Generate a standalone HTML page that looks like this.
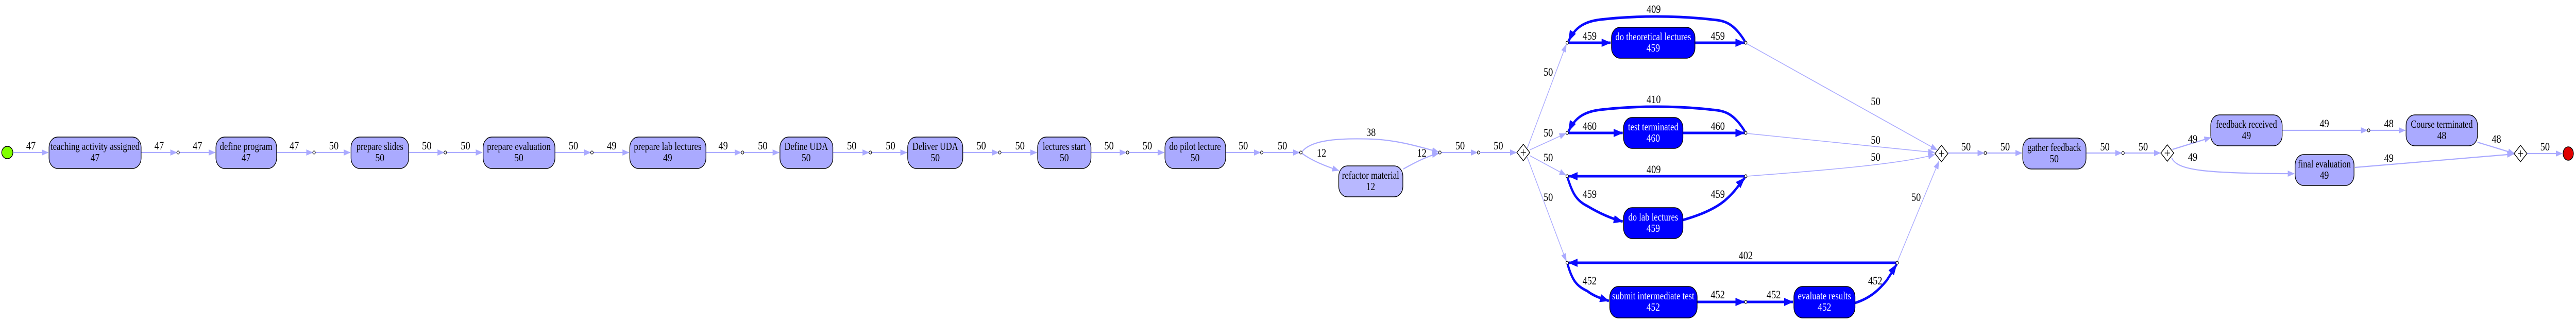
<!DOCTYPE html>
<html><head><meta charset="utf-8"><style>
html,body{margin:0;padding:0;background:#fff;width:100%;height:100%;overflow:hidden;}
svg{display:block;width:100vw;height:100vh;}
text{font-family:"Liberation Serif",serif;}
.l{font-size:22px;fill:#000;text-anchor:middle;}
.n{font-size:21px;text-anchor:middle;}
.e{stroke:#aaaaff;stroke-width:2.2;fill:none;}
.et{stroke:#aaaaff;stroke-width:1.6;fill:none;}
.b{stroke:#0a0aff;stroke-width:5;fill:none;}
.dot{fill:#fff;stroke:#000;stroke-width:1.2;}
</style></head><body>
<svg viewBox="0 0 5988 623" preserveAspectRatio="none" xmlns="http://www.w3.org/2000/svg">
<defs>
<marker id="a" markerUnits="userSpaceOnUse" markerWidth="16" markerHeight="12" refX="15" refY="6" orient="auto"><path d="M0,0 L16,6 L0,12 z" fill="#aaaaff"/></marker>
<marker id="ab" markerUnits="userSpaceOnUse" markerWidth="22" markerHeight="16" refX="21" refY="8" orient="auto"><path d="M0,0 L22,8 L0,16 z" fill="#0a0aff"/></marker>
</defs>

<ellipse cx="17" cy="296" rx="13" ry="12" fill="#80ff00" stroke="#000" stroke-width="1.5"/>
<ellipse cx="5970" cy="298" rx="12" ry="13" fill="#e00000" stroke="#000" stroke-width="1.5"/>

<g class="e">
<path d="M30,296 H112" marker-end="url(#a)"/>
<path d="M328,296 H411" marker-end="url(#a)"/>
<path d="M417,296 H500" marker-end="url(#a)"/>
<path d="M643,296 H727" marker-end="url(#a)"/>
<path d="M733,296 H814" marker-end="url(#a)"/>
<path d="M950,296 H1032" marker-end="url(#a)"/>
<path d="M1038,296 H1121" marker-end="url(#a)"/>
<path d="M1290,296 H1373" marker-end="url(#a)"/>
<path d="M1379,296 H1462" marker-end="url(#a)"/>
<path d="M1641,296 H1723" marker-end="url(#a)"/>
<path d="M1729,296 H1811" marker-end="url(#a)"/>
<path d="M1936,296 H2020" marker-end="url(#a)"/>
<path d="M2026,296 H2108" marker-end="url(#a)"/>
<path d="M2238,296 H2321" marker-end="url(#a)"/>
<path d="M2327,296 H2410" marker-end="url(#a)"/>
<path d="M2536,296 H2618" marker-end="url(#a)"/>
<path d="M2624,296 H2706" marker-end="url(#a)"/>
<path d="M2849,296 H2930" marker-end="url(#a)"/>
<path d="M2936,296 H3021" marker-end="url(#a)"/>
<path d="M3027,294 C3050,270 3120,268 3190,270 C3250,272 3300,285 3344,295" marker-end="url(#a)"/>
<path d="M3027,298 C3050,312 3080,322 3112,331" marker-end="url(#a)"/>
<path d="M3262,328 C3290,315 3320,302 3344,298" marker-end="url(#a)"/>
<path d="M3350,296 H3434" marker-end="url(#a)"/>
<path d="M3440,296 H3525" marker-end="url(#a)"/>
<path d="M4528,297 H4612" marker-end="url(#a)"/>
<path d="M4618,297 H4700" marker-end="url(#a)"/>
<path d="M4849,297 H4932" marker-end="url(#a)"/>
<path d="M4938,297 H5022" marker-end="url(#a)"/>
<path d="M5050,290 L5139,267" marker-end="url(#a)"/>
<path d="M5048,306 C5060,330 5120,337 5333,337" marker-end="url(#a)"/>
<path d="M5305,253 H5503" marker-end="url(#a)"/>
<path d="M5509,253 H5591" marker-end="url(#a)"/>
<path d="M5759,276 L5845,298" marker-end="url(#a)"/>
<path d="M5474,325 L5843,299" marker-end="url(#a)"/>
<path d="M5874,298 H5956" marker-end="url(#a)"/>
</g>
<g class="et">
<path d="M3550,288 L3641,86" marker-end="url(#a)"/>
<path d="M3556,291 L3640,259" marker-end="url(#a)"/>
<path d="M3556,302 L3640,340" marker-end="url(#a)"/>
<path d="M3550,305 L3641,507" marker-end="url(#a)"/>
<path d="M4061,85 L4503,291" marker-end="url(#a)"/>
<path d="M4061,259 L4497,296" marker-end="url(#a)"/>
<path d="M4061,342 C4250,330 4420,318 4497,300" marker-end="url(#a)"/>
<path d="M4411,507 L4507,313" marker-end="url(#a)"/>
</g>

<g class="b">
<path d="M3646,83 H3744" marker-end="url(#ab)"/>
<path d="M3940,83 H4055" marker-end="url(#ab)"/>
<path d="M4056,80 C4030,45 4010,40 3980,38 C3900,30 3800,30 3720,38 C3680,42 3660,55 3646,80" marker-end="url(#ab)"/>
<path d="M3646,258 H3772" marker-end="url(#ab)"/>
<path d="M3912,258 H4055" marker-end="url(#ab)"/>
<path d="M4056,255 C4030,220 4010,215 3980,213 C3900,205 3800,205 3720,213 C3680,217 3660,230 3646,255" marker-end="url(#ab)"/>
<path d="M4055,342 H3646" marker-end="url(#ab)"/>
<path d="M3644,345 C3655,375 3665,390 3690,400 C3720,415 3745,424 3772,430" marker-end="url(#ab)"/>
<path d="M3912,427 C3950,418 3990,405 4015,385 C4035,370 4045,355 4056,345" marker-end="url(#ab)"/>
<path d="M4408,510 H3646" marker-end="url(#ab)"/>
<path d="M3644,513 C3655,545 3665,555 3690,565 C3705,575 3725,580 3740,584" marker-end="url(#ab)"/>
<path d="M3945,586 H4055" marker-end="url(#ab)"/>
<path d="M4061,586 H4168" marker-end="url(#ab)"/>
<path d="M4312,588 C4350,578 4370,560 4385,545 C4395,533 4402,522 4409,513" marker-end="url(#ab)"/>
</g>

<g class="dot">
<circle cx="414" cy="296" r="3"/><circle cx="730" cy="296" r="3"/><circle cx="1035" cy="296" r="3"/>
<circle cx="1376" cy="296" r="3"/><circle cx="1726" cy="296" r="3"/><circle cx="2023" cy="296" r="3"/>
<circle cx="2324" cy="296" r="3"/><circle cx="2621" cy="296" r="3"/><circle cx="2933" cy="296" r="3"/>
<circle cx="3024" cy="296" r="3"/><circle cx="3347" cy="296" r="3"/><circle cx="3437" cy="296" r="3"/>
<circle cx="4615" cy="297" r="3"/><circle cx="4935" cy="297" r="3"/><circle cx="5506" cy="253" r="3"/>
<circle cx="3643" cy="83" r="3"/><circle cx="3643" cy="258" r="3"/><circle cx="3643" cy="342" r="3"/><circle cx="3643" cy="510" r="3"/>
<circle cx="4058" cy="83" r="3"/><circle cx="4058" cy="258" r="3"/><circle cx="4058" cy="342" r="3"/><circle cx="4058" cy="586" r="3"/>
<circle cx="4410" cy="510" r="3"/>
</g>

<g fill="#fff" stroke="#000" stroke-width="1.5">
<path d="M3541,280 L3556,296 L3541,312 L3526,296 z"/>
<path d="M4513,282 L4528,298 L4513,314 L4498,298 z"/>
<path d="M5038,281 L5053,297 L5038,313 L5023,297 z"/>
<path d="M5859,282 L5874,298 L5859,314 L5844,298 z"/>
</g>
<g stroke="#000" stroke-width="1.2">
<path d="M3535,296 H3547 M3541,290 V302"/>
<path d="M4507,298 H4519 M4513,292 V304"/>
<path d="M5032,297 H5044 M5038,291 V303"/>
<path d="M5853,298 H5865 M5859,292 V304"/>
</g>

<g fill="#aaaaff" stroke="#000" stroke-width="1.5">
<rect x="114" y="266" width="214" height="61" rx="20"/>
<rect x="502" y="266" width="141" height="61" rx="20"/>
<rect x="816" y="266" width="134" height="61" rx="20"/>
<rect x="1123" y="266" width="167" height="61" rx="20"/>
<rect x="1464" y="266" width="177" height="61" rx="20"/>
<rect x="1813" y="266" width="123" height="61" rx="20"/>
<rect x="2110" y="266" width="128" height="61" rx="20"/>
<rect x="2412" y="266" width="124" height="61" rx="20"/>
<rect x="2708" y="266" width="141" height="61" rx="20"/>
<rect x="3112" y="322" width="149" height="60" rx="20" fill="#b8b8ff"/>
<rect x="4702" y="268" width="147" height="60" rx="20"/>
<rect x="5139" y="223" width="166" height="60" rx="20"/>
<rect x="5593" y="223" width="166" height="60" rx="20"/>
<rect x="5335" y="300" width="137" height="60" rx="20"/>
</g>
<g fill="#0000ff" stroke="#000" stroke-width="1.5">
<rect x="3746" y="53" width="194" height="60" rx="20"/>
<rect x="3774" y="228" width="138" height="60" rx="20"/>
<rect x="3774" y="403" width="138" height="60" rx="20"/>
<rect x="3742" y="556" width="203" height="61" rx="20"/>
<rect x="4170" y="556" width="142" height="61" rx="20"/>
</g>

<g class="n" fill="#000">
<text x="221" y="291" textLength="207" lengthAdjust="spacingAndGlyphs">teaching activity assigned</text><text x="221" y="313">47</text>
<text x="572" y="291" textLength="122" lengthAdjust="spacingAndGlyphs">define program</text><text x="572" y="313">47</text>
<text x="883" y="291" textLength="109" lengthAdjust="spacingAndGlyphs">prepare slides</text><text x="883" y="313">50</text>
<text x="1206" y="291" textLength="148" lengthAdjust="spacingAndGlyphs">prepare evaluation</text><text x="1206" y="313">50</text>
<text x="1552" y="291" textLength="157" lengthAdjust="spacingAndGlyphs">prepare lab lectures</text><text x="1552" y="313">49</text>
<text x="1874" y="291" textLength="101" lengthAdjust="spacingAndGlyphs">Define UDA</text><text x="1874" y="313">50</text>
<text x="2174" y="291" textLength="106" lengthAdjust="spacingAndGlyphs">Deliver UDA</text><text x="2174" y="313">50</text>
<text x="2474" y="291" textLength="100" lengthAdjust="spacingAndGlyphs">lectures start</text><text x="2474" y="313">50</text>
<text x="2778" y="291" textLength="120" lengthAdjust="spacingAndGlyphs">do pilot lecture</text><text x="2778" y="313">50</text>
<text x="3186" y="347" textLength="133" lengthAdjust="spacingAndGlyphs">refactor material</text><text x="3186" y="369">12</text>
<text x="4775" y="293" textLength="125" lengthAdjust="spacingAndGlyphs">gather feedback</text><text x="4775" y="315">50</text>
<text x="5222" y="248" textLength="142" lengthAdjust="spacingAndGlyphs">feedback received</text><text x="5222" y="270">49</text>
<text x="5676" y="248" textLength="144" lengthAdjust="spacingAndGlyphs">Course terminated</text><text x="5676" y="270">48</text>
<text x="5403" y="325" textLength="123" lengthAdjust="spacingAndGlyphs">final evaluation</text><text x="5403" y="347">49</text>
</g>
<g class="n" fill="#fff">
<text x="3843" y="78" textLength="176" lengthAdjust="spacingAndGlyphs">do theoretical lectures</text><text x="3843" y="100">459</text>
<text x="3843" y="253" textLength="117" lengthAdjust="spacingAndGlyphs">test terminated</text><text x="3843" y="275">460</text>
<text x="3843" y="428" textLength="116" lengthAdjust="spacingAndGlyphs">do lab lectures</text><text x="3843" y="450">459</text>
<text x="3843" y="581" textLength="191" lengthAdjust="spacingAndGlyphs">submit intermediate test</text><text x="3843" y="603">452</text>
<text x="4241" y="581" textLength="124" lengthAdjust="spacingAndGlyphs">evaluate results</text><text x="4241" y="603">452</text>
</g>

<g class="l">
<text x="72" y="290">47</text><text x="370" y="290">47</text><text x="459" y="290">47</text><text x="684" y="290">47</text>
<text x="776" y="290">50</text><text x="992" y="290">50</text><text x="1082" y="290">50</text><text x="1333" y="290">50</text>
<text x="1422" y="290">49</text><text x="1681" y="290">49</text><text x="1773" y="290">50</text><text x="1980" y="290">50</text>
<text x="2070" y="290">50</text><text x="2281" y="290">50</text><text x="2371" y="290">50</text><text x="2578" y="290">50</text>
<text x="2667" y="290">50</text><text x="2890" y="290">50</text><text x="2981" y="290">50</text>
<text x="3187" y="264">38</text><text x="3072" y="304">12</text><text x="3305" y="304">12</text>
<text x="3394" y="290">50</text><text x="3483" y="290">50</text>
<text x="3599" y="147">50</text><text x="3599" y="265">50</text><text x="3599" y="313">50</text><text x="3599" y="390">50</text>
<text x="3844" y="25">409</text><text x="3695" y="77">459</text><text x="3993" y="77">459</text>
<text x="3844" y="200">410</text><text x="3695" y="252">460</text><text x="3993" y="252">460</text>
<text x="3844" y="336">409</text><text x="3695" y="384">459</text><text x="3993" y="384">459</text>
<text x="4058" y="503">402</text><text x="3695" y="552">452</text><text x="3993" y="579">452</text>
<text x="4123" y="579">452</text><text x="4359" y="552">452</text>
<text x="4360" y="204">50</text><text x="4360" y="279">50</text><text x="4360" y="312">50</text><text x="4454" y="390">50</text>
<text x="4570" y="292">50</text><text x="4661" y="292">50</text><text x="4893" y="292">50</text><text x="4982" y="292">50</text>
<text x="5097" y="277">49</text><text x="5097" y="312">49</text><text x="5403" y="247">49</text><text x="5553" y="247">48</text>
<text x="5803" y="277">48</text><text x="5553" y="314">49</text><text x="5916" y="292">50</text>
</g>
</svg>
</body></html>
